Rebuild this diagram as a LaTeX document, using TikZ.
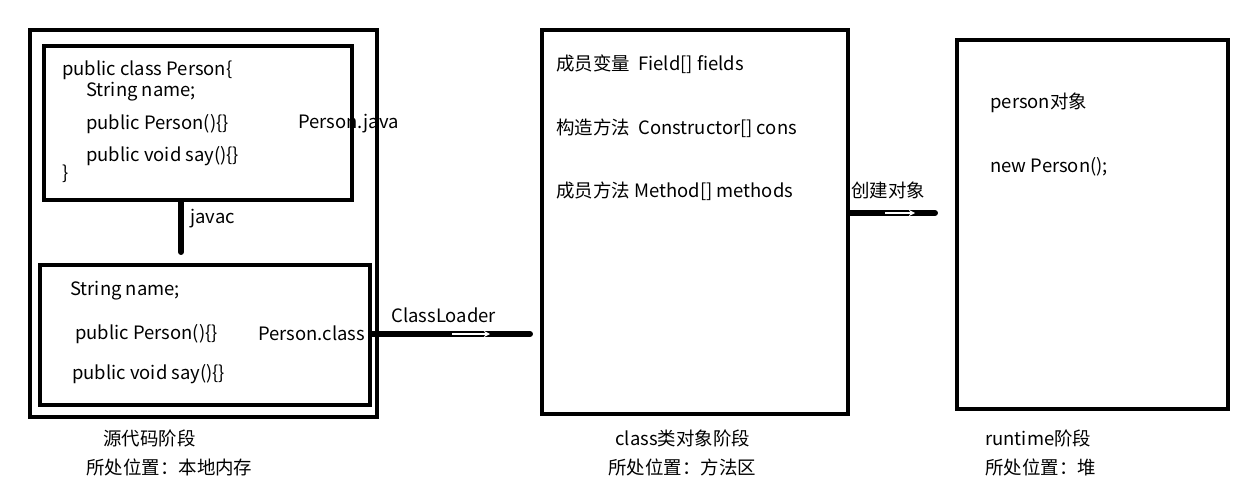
\documentclass[tikz,border=0pt]{standalone}
\usepackage{fontspec}
\setmainfont{Noto Sans CJK SC}
\usetikzlibrary{arrows.meta,positioning}

\begin{document}
\begin{tikzpicture}[
    x=0.02cm, y=-0.02cm,
    stage_box/.style={rectangle, draw, line width=2.3pt, anchor=north west, inner sep=0pt},
    code_text/.style={anchor=west, inner sep=0pt, font=\fontsize{10.5}{12}\selectfont},
    load_arrow/.style={line width=3.4pt, line cap=round},
    inner_head/.style={white, line width=0.9pt, -{Stealth[length=3.5pt,width=3.5pt]}}
]
    \useasboundingbox (0,0) rectangle (1254,500);

    % Boxes
    \node (src) [stage_box, minimum width=347*0.02cm, minimum height=387*0.02cm] at (28,28) {};
    \node (java) [stage_box, minimum width=308*0.02cm, minimum height=154*0.02cm] at (42,44) {};
    \node (cls) [stage_box, minimum width=330*0.02cm, minimum height=140*0.02cm] at (38,263) {};
    \node (mem) [stage_box, minimum width=306*0.02cm, minimum height=384*0.02cm] at (540,28) {};
    \node (heap) [stage_box, minimum width=271*0.02cm, minimum height=369*0.02cm] at (955,38) {};

    % Source code
    \node (j1) [code_text] at (62,70) {public class Person\{};
    \node (j2) [code_text] at (86,92) {String name;};
    \node (j3) [code_text] at (86,124) {public Person()\{\}};
    \node (j4) [code_text] at (86,156) {public void say()\{\}};
    \node (j5) [code_text] at (62,174) {\}};
    \node (jname) [code_text] at (298,124) {Person.java};

    \node (c1) [code_text] at (70,291) {String name;};
    \node (c2) [code_text] at (75,334) {public Person()\{\}};
    \node (c3) [code_text] at (72,374) {public void say()\{\}};
    \node (cname) [code_text] at (258,333) {Person.class};

    % Class object
    \node (m1) [code_text] at (556,64) {成员变量\ \ Field[] fields};
    \node (m2) [code_text] at (556,128) {构造方法\ \ Constructor[] cons};
    \node (m3) [code_text] at (556,191) {成员方法 Method[] methods};

    % Runtime
    \node (r1) [code_text] at (990,103) {person对象};
    \node (r2) [code_text] at (990,167) {new Person();};

    % Arrows
    \coordinate (javacEnd) at (181,252);
    \coordinate (loadEnd) at (530,334);
    \coordinate (newEnd) at (935,213);
    \draw[load_arrow] (java.south -| javacEnd) -- (javacEnd);
    \node (javac) [code_text] at (190,219) {javac};

    \draw[load_arrow] (cls.east |- loadEnd) -- (loadEnd);
    \draw[inner_head] (452,334) -- (490,334);
    \node (loader) [code_text] at (391,315) {ClassLoader};

    \draw[load_arrow] (mem.east |- newEnd) -- (newEnd);
    \draw[inner_head] (885,213) -- (915,213);
    \node (create) [code_text] at (851,190) {创建对象};

    % Stages
    \node (s1) [code_text] at (103,438) {源代码阶段};
    \node (p1) [code_text] at (86,467) {所处位置：本地内存};
    \node (s2) [code_text] at (615,438) {class类对象阶段};
    \node (p2) [code_text] at (608,467) {所处位置：方法区};
    \node (s3) [code_text] at (985,438) {runtime阶段};
    \node (p3) [code_text] at (985,467) {所处位置：堆};
\end{tikzpicture}
\end{document}
